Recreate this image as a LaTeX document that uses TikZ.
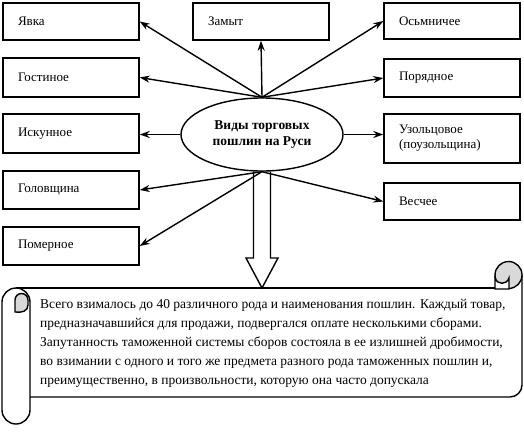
\documentclass[tikz,border=0pt]{standalone}
\usepackage{fontspec}
\setmainfont{Liberation Serif}
\usetikzlibrary{arrows.meta,shapes.geometric,calc}
\definecolor{curl}{HTML}{D9D9D9}
\begin{document}
\begin{tikzpicture}[x=1pt,y=-1pt,
  lw/.style={line width=1.4pt},
  tbox/.style={draw,lw,minimum width=136pt,inner xsep=15pt,text width=106pt,align=left,font=\fontsize{13}{15}\selectfont},
  arr/.style={lw,-{Stealth[length=10pt,width=7pt]}},
  ell/.style={ellipse,draw,lw,minimum width=162pt,minimum height=73pt,inner sep=0pt,align=center,font=\bfseries\fontsize{13.5}{16}\selectfont},
  scrolltext/.style={anchor=west,align=left,inner sep=0pt,font=\fontsize{13.5}{19}\selectfont}
]
\useasboundingbox (0,0) rectangle (524,433);

% left column
\node[tbox,minimum height=37pt] (yavka) at (71,21.5) {Явка};
\node[tbox,minimum height=39pt] (gost) at (71,77.5) {Гостиное};
\node[tbox,minimum height=39pt] (isk) at (71,133.5) {Искунное};
\node[tbox,minimum height=38pt] (gol) at (71,190) {Головщина};
\node[tbox,minimum height=38pt] (pom) at (71,246) {Померное};
% middle
\node[tbox,minimum height=37pt] (zamyt) at (261,21.5) {Замыт};
% right column
\node[tbox,minimum height=36pt] (osm) at (452,21) {Осьмничее};
\node[tbox,minimum height=38pt] (por) at (452,78) {Порядное};
\node[tbox,minimum height=49pt] (uz) at (452,138.5) {Узольцовое\\(поузольщина)};
\node[tbox,minimum height=37pt] (ves) at (452,201.5) {Весчее};

% centre
\node[ell] (ell) at (262,134.5) {Виды торговых\\пошлин на Руси};

% arrows
\draw[arr] (ell.north) -- (yavka.east);
\draw[arr] (ell.north) -- (gost.east);
\draw[arr] (ell.north) -- (zamyt.south);
\draw[arr] (ell.north) -- (osm.west);
\draw[arr] (ell.north) -- (por.west);
\draw[arr] (ell.west) -- (ell.west -| isk.east);
\draw[arr] (ell.east) -- (ell.east -| uz.west);
\draw[arr] (ell.south) -- (gol.east);
\draw[arr] (ell.south) -- (pom.east);
\draw[arr] (ell.south) -- (ves.west);

% scroll
\coordinate (st) at (262,288);
\draw[lw] (16,288) -- (495,288);
\draw[lw,rounded corners=12pt] (522,275) -- (522,397) -- (30,397);
\draw[lw,fill=white,rounded corners=14pt] (2,288) rectangle (30,424);
\filldraw[lw,fill=curl] (15,312) -- (15,300) arc[start angle=180,end angle=360,radius=6.5] -- (28,305) .. controls (28,311) and (22,313) .. (15,312) -- cycle;
\filldraw[lw,fill=curl] (508.5,275) circle[radius=13.5];
\filldraw[lw,fill=white] (495,289) -- (495,278) .. controls (497,285) and (507,285) .. (509,278) -- (509,289) -- cycle;

% hollow arrow
\draw[lw,line join=miter] ($(ell.south)+(-8.5,0)$) -- ($(st)+(-8.5,-30)$) -- ($(st)+(-16,-30)$) -- (st) -- ($(st)+(16,-30)$) -- ($(st)+(8.5,-30)$) -- ($(ell.south)+(8.5,0)$);

\node[scrolltext] (txt) at (40,343) {Всего взималось до 40 различного рода и наименования пошлин. Каждый товар,\\
предназначавшийся для продажи, подвергался оплате несколькими сборами.\\
Запутанность таможенной системы сборов состояла в ее излишней дробимости,\\
во взимании с одного и того же предмета разного рода таможенных пошлин и,\\
преимущественно, в произвольности, которую она часто допускала};
\end{tikzpicture}
\end{document}
